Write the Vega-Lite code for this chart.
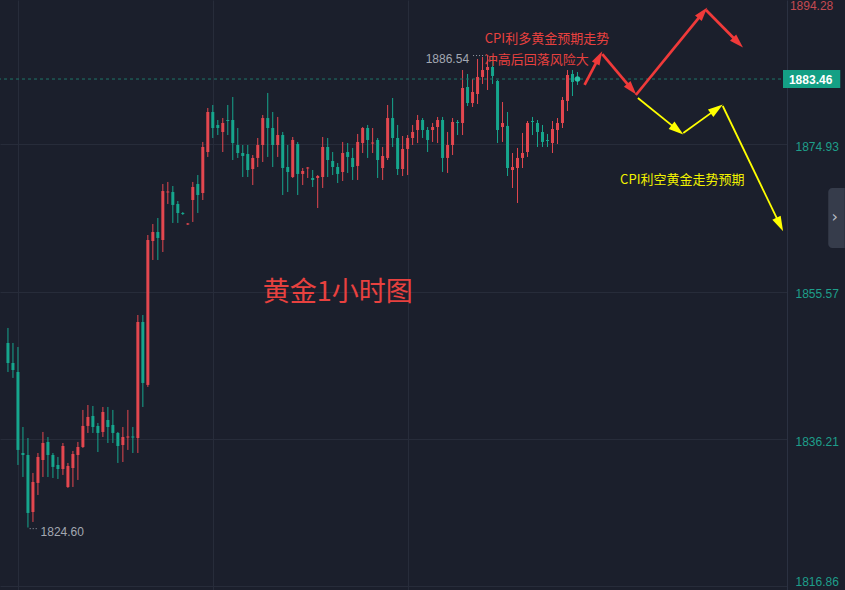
{
  "$schema": "https://vega.github.io/schema/vega-lite/v6.json",
  "width": 787,
  "height": 590,
  "autosize": {"type": "none"},
  "padding": {"left": 0, "top": 0, "right": 58, "bottom": 0},
  "background": "#1b1f2c",
  "view": {"stroke": null},
  "config": {"text": {"font": "Noto Sans CJK SC"}},
  "datasets": {
    "candles": [
      {"i":0,"o":1848.82,"h":1850.79,"l":1845.01,"c":1846.19},
      {"i":1,"o":1846.19,"h":1848.82,"l":1844.23,"c":1845.27},
      {"i":2,"o":1845.01,"h":1848.29,"l":1832.81,"c":1834.78},
      {"i":3,"o":1834.38,"h":1837.79,"l":1831.23,"c":1834.12},
      {"i":4,"o":1834.12,"h":1836.35,"l":1824.60,"c":1826.51},
      {"i":5,"o":1826.64,"h":1831.76,"l":1825.33,"c":1830.58},
      {"i":6,"o":1830.45,"h":1834.38,"l":1828.87,"c":1833.86},
      {"i":7,"o":1833.46,"h":1837.14,"l":1831.23,"c":1835.69},
      {"i":8,"o":1835.83,"h":1836.48,"l":1831.23,"c":1834.12},
      {"i":9,"o":1834.12,"h":1834.38,"l":1831.10,"c":1832.55},
      {"i":10,"o":1832.81,"h":1833.86,"l":1830.97,"c":1832.28},
      {"i":11,"o":1832.28,"h":1835.69,"l":1831.50,"c":1835.30},
      {"i":12,"o":1829.92,"h":1833.07,"l":1829.79,"c":1832.68},
      {"i":13,"o":1832.41,"h":1834.65,"l":1829.92,"c":1834.25},
      {"i":14,"o":1834.12,"h":1835.83,"l":1830.84,"c":1835.17},
      {"i":15,"o":1835.17,"h":1840.03,"l":1835.04,"c":1837.93},
      {"i":16,"o":1837.93,"h":1840.68,"l":1837.01,"c":1839.11},
      {"i":17,"o":1839.24,"h":1840.55,"l":1837.01,"c":1837.79},
      {"i":18,"o":1837.93,"h":1838.32,"l":1834.51,"c":1837.01},
      {"i":19,"o":1837.14,"h":1840.42,"l":1836.48,"c":1839.76},
      {"i":20,"o":1838.71,"h":1840.42,"l":1835.69,"c":1837.79},
      {"i":21,"o":1838.06,"h":1840.03,"l":1835.69,"c":1837.01},
      {"i":22,"o":1837.01,"h":1837.14,"l":1833.07,"c":1835.30},
      {"i":23,"o":1835.43,"h":1837.79,"l":1833.20,"c":1836.48},
      {"i":24,"o":1836.41,"h":1840.03,"l":1834.78,"c":1836.55},
      {"i":25,"o":1836.55,"h":1837.79,"l":1834.38,"c":1836.41},
      {"i":26,"o":1836.35,"h":1852.49,"l":1834.38,"c":1851.57},
      {"i":27,"o":1851.57,"h":1852.49,"l":1840.42,"c":1843.57},
      {"i":28,"o":1843.31,"h":1862.99,"l":1843.05,"c":1862.33},
      {"i":29,"o":1862.20,"h":1864.43,"l":1859.71,"c":1863.38},
      {"i":30,"o":1863.38,"h":1865.22,"l":1859.71,"c":1862.60},
      {"i":31,"o":1862.33,"h":1869.68,"l":1860.76,"c":1868.76},
      {"i":32,"o":1868.57,"h":1869.95,"l":1867.06,"c":1868.70},
      {"i":33,"o":1868.63,"h":1869.42,"l":1864.57,"c":1866.93},
      {"i":34,"o":1867.06,"h":1867.45,"l":1864.57,"c":1865.88},
      {"i":35,"o":1865.88,"h":1866.01,"l":1865.62,"c":1865.75},
      {"i":36,"o":1864.37,"h":1864.57,"l":1864.30,"c":1864.50},
      {"i":37,"o":1867.58,"h":1869.95,"l":1864.70,"c":1869.29},
      {"i":38,"o":1869.68,"h":1870.86,"l":1865.88,"c":1868.24},
      {"i":39,"o":1868.50,"h":1875.20,"l":1867.58,"c":1874.54},
      {"i":40,"o":1873.88,"h":1879.66,"l":1873.23,"c":1879.13},
      {"i":41,"o":1879.13,"h":1880.05,"l":1875.72,"c":1877.03},
      {"i":42,"o":1877.43,"h":1878.08,"l":1876.11,"c":1877.03},
      {"i":43,"o":1876.51,"h":1878.34,"l":1873.88,"c":1877.69},
      {"i":44,"o":1878.08,"h":1880.05,"l":1876.11,"c":1877.95},
      {"i":45,"o":1878.08,"h":1881.10,"l":1872.83,"c":1875.06},
      {"i":46,"o":1874.80,"h":1877.03,"l":1873.10,"c":1873.75},
      {"i":47,"o":1873.75,"h":1874.80,"l":1870.60,"c":1873.36},
      {"i":48,"o":1873.62,"h":1874.80,"l":1870.60,"c":1871.52},
      {"i":49,"o":1871.65,"h":1873.49,"l":1869.55,"c":1873.10},
      {"i":50,"o":1873.10,"h":1875.72,"l":1871.91,"c":1874.80},
      {"i":51,"o":1874.80,"h":1878.74,"l":1872.57,"c":1878.34},
      {"i":52,"o":1878.34,"h":1881.63,"l":1873.23,"c":1877.03},
      {"i":53,"o":1877.03,"h":1879.13,"l":1871.91,"c":1874.80},
      {"i":54,"o":1874.80,"h":1878.48,"l":1873.23,"c":1876.11},
      {"i":55,"o":1876.11,"h":1876.51,"l":1868.24,"c":1871.78},
      {"i":56,"o":1871.91,"h":1874.80,"l":1868.63,"c":1871.26},
      {"i":57,"o":1870.60,"h":1875.85,"l":1870.47,"c":1875.46},
      {"i":58,"o":1874.93,"h":1875.20,"l":1868.24,"c":1871.00},
      {"i":59,"o":1871.00,"h":1871.78,"l":1869.55,"c":1871.39},
      {"i":60,"o":1871.72,"h":1871.91,"l":1870.47,"c":1871.85},
      {"i":61,"o":1870.47,"h":1871.52,"l":1869.29,"c":1870.21},
      {"i":62,"o":1870.47,"h":1870.86,"l":1866.53,"c":1870.73},
      {"i":63,"o":1870.60,"h":1875.85,"l":1869.16,"c":1874.54},
      {"i":64,"o":1874.54,"h":1875.72,"l":1870.60,"c":1872.83},
      {"i":65,"o":1872.70,"h":1873.88,"l":1870.86,"c":1871.91},
      {"i":66,"o":1871.91,"h":1872.44,"l":1869.81,"c":1871.00},
      {"i":67,"o":1871.26,"h":1875.20,"l":1870.08,"c":1873.75},
      {"i":68,"o":1873.88,"h":1875.06,"l":1871.13,"c":1873.23},
      {"i":69,"o":1873.10,"h":1874.41,"l":1870.21,"c":1871.91},
      {"i":70,"o":1872.05,"h":1876.25,"l":1870.21,"c":1875.20},
      {"i":71,"o":1875.06,"h":1877.16,"l":1873.75,"c":1877.03},
      {"i":72,"o":1877.03,"h":1877.43,"l":1873.10,"c":1875.46},
      {"i":73,"o":1874.99,"h":1877.03,"l":1873.75,"c":1875.13},
      {"i":74,"o":1875.46,"h":1875.72,"l":1870.47,"c":1872.83},
      {"i":75,"o":1871.78,"h":1874.54,"l":1870.21,"c":1873.36},
      {"i":76,"o":1873.10,"h":1880.05,"l":1872.83,"c":1878.34},
      {"i":77,"o":1878.34,"h":1880.97,"l":1874.54,"c":1875.72},
      {"i":78,"o":1875.72,"h":1877.43,"l":1870.86,"c":1871.65},
      {"i":79,"o":1871.65,"h":1875.98,"l":1870.73,"c":1874.28},
      {"i":80,"o":1874.28,"h":1876.11,"l":1870.86,"c":1875.72},
      {"i":81,"o":1875.72,"h":1877.43,"l":1874.80,"c":1876.51},
      {"i":82,"o":1876.77,"h":1878.74,"l":1875.06,"c":1878.08},
      {"i":83,"o":1878.08,"h":1878.34,"l":1875.72,"c":1876.77},
      {"i":84,"o":1876.77,"h":1877.16,"l":1873.88,"c":1875.46},
      {"i":85,"o":1876.77,"h":1877.69,"l":1875.20,"c":1877.16},
      {"i":86,"o":1877.16,"h":1878.48,"l":1875.06,"c":1878.08},
      {"i":87,"o":1878.08,"h":1878.48,"l":1871.26,"c":1873.10},
      {"i":88,"o":1873.10,"h":1876.51,"l":1871.13,"c":1874.80},
      {"i":89,"o":1874.80,"h":1878.34,"l":1873.49,"c":1877.82},
      {"i":90,"o":1877.82,"h":1878.08,"l":1876.11,"c":1877.69},
      {"i":91,"o":1877.69,"h":1884.64,"l":1876.11,"c":1882.28},
      {"i":92,"o":1882.41,"h":1884.12,"l":1879.92,"c":1880.31},
      {"i":93,"o":1880.31,"h":1883.46,"l":1879.79,"c":1881.76},
      {"i":94,"o":1881.49,"h":1886.09,"l":1880.18,"c":1883.73},
      {"i":95,"o":1883.73,"h":1886.35,"l":1882.81,"c":1884.64},
      {"i":96,"o":1884.64,"h":1886.54,"l":1882.02,"c":1885.04},
      {"i":97,"o":1885.04,"h":1886.48,"l":1882.81,"c":1883.86},
      {"i":98,"o":1883.20,"h":1883.33,"l":1875.06,"c":1876.77},
      {"i":99,"o":1877.16,"h":1880.44,"l":1875.20,"c":1877.69},
      {"i":100,"o":1877.30,"h":1879.13,"l":1870.73,"c":1871.78},
      {"i":101,"o":1871.52,"h":1873.75,"l":1869.16,"c":1871.91},
      {"i":102,"o":1871.78,"h":1874.41,"l":1867.19,"c":1873.10},
      {"i":103,"o":1873.10,"h":1876.38,"l":1871.78,"c":1873.75},
      {"i":104,"o":1873.88,"h":1877.95,"l":1873.23,"c":1877.69},
      {"i":105,"o":1877.95,"h":1878.48,"l":1876.11,"c":1877.82},
      {"i":106,"o":1877.69,"h":1878.08,"l":1874.54,"c":1876.51},
      {"i":107,"o":1876.51,"h":1877.43,"l":1874.54,"c":1875.20},
      {"i":108,"o":1875.46,"h":1876.25,"l":1874.54,"c":1875.33},
      {"i":109,"o":1875.06,"h":1877.95,"l":1873.75,"c":1876.90},
      {"i":110,"o":1876.77,"h":1878.34,"l":1874.93,"c":1877.69},
      {"i":111,"o":1877.69,"h":1881.10,"l":1877.03,"c":1880.71},
      {"i":112,"o":1880.58,"h":1884.64,"l":1879.26,"c":1883.99},
      {"i":113,"o":1884.12,"h":1884.64,"l":1881.23,"c":1883.07},
      {"i":114,"o":1883.66,"h":1884.38,"l":1882.68,"c":1883.46}
    ],
    "redArrows": [
      {"x":115.42,"y":1882.68,"x2":118.3,"y2":1886.30,"a":28},
      {"x":118.97,"y":1886.74,"x2":124.86,"y2":1882.12,"a":139.8},
      {"x":125.69,"y":1881.36,"x2":139.09,"y2":1892.14,"a":39.5},
      {"x":139.72,"y":1892.52,"x2":146.14,"y2":1888.25,"a":135}
    ],
    "yellowArrows": [
      {"x":126.09,"y":1880.97,"x2":134.01,"y2":1876.78,"a":128.5},
      {"x":135.18,"y":1876.38,"x2":141.88,"y2":1879.54,"a":54.6},
      {"x":143.08,"y":1879.92,"x2":154.5,"y2":1864.37,"a":153.8}
    ]
  },
  "layer": [
    {
      "data": {"name": "candles"},
      "mark": {"type": "rule", "strokeWidth": 1},
      "encoding": {
        "x": {"field": "i", "type": "quantitative",
          "scale": {"domain": [-0.593, 154.94], "zero": false, "nice": false},
          "axis": {"values": [2, 41, 80], "grid": true, "gridColor": "#272c3a", "labels": false, "ticks": false, "domain": false, "title": null}},
        "y": {"field": "l", "type": "quantitative",
          "scale": {"domain": [1816.4, 1893.83], "zero": false, "nice": false},
          "axis": {"orient": "right", "values": [1874.93, 1855.57, 1836.21, 1816.86], "format": ".2f", "title": null,
            "ticks": false, "domain": true, "domainColor": "#2b3141", "grid": true, "gridColor": "#272c3a",
            "labelColor": "#1e9e8a", "labelFont": "Liberation Sans", "labelFontSize": 12, "labelPadding": 8,
            "labelAlign": "left", "labelFlush": 4, "labelOffset": 2}},
        "y2": {"field": "h"},
        "color": {"condition": {"test": "datum.c >= datum.o", "value": "#e3474f"}, "value": "#16a68d"}
      }
    },
    {
      "data": {"values": [{"p": 1883.46}]},
      "mark": {"type": "rule", "color": "#1d7568", "strokeDash": [3, 3], "strokeWidth": 1},
      "encoding": {
        "y": {"field": "p", "type": "quantitative", "scale": {"domain": [1816.4, 1893.83], "zero": false, "nice": false}}
      }
    },
    {
      "data": {"name": "candles"},
      "mark": {"type": "bar", "size": 3},
      "encoding": {
        "x": {"field": "i", "type": "quantitative", "scale": {"domain": [-0.593, 154.94], "zero": false, "nice": false}},
        "y": {"field": "o", "type": "quantitative", "scale": {"domain": [1816.4, 1893.83], "zero": false, "nice": false}},
        "y2": {"field": "c"},
        "color": {"condition": {"test": "datum.c >= datum.o", "value": "#e3474f"}, "value": "#16a68d"}
      }
    },
    {
      "data": {"values": [{"x": 114, "y": 1883.46}]},
      "mark": {"type": "point", "filled": true, "size": 30, "color": "#2bc4a8", "opacity": 1},
      "encoding": {
        "x": {"field": "x", "type": "quantitative", "scale": {"domain": [-0.593, 154.94], "zero": false, "nice": false}},
        "y": {"field": "y", "type": "quantitative", "scale": {"domain": [1816.4, 1893.83], "zero": false, "nice": false}}
      }
    },
    {
      "data": {"values": [{"x": 4.35, "x2": 5.93, "y": 1824.45}, {"x": 93.1, "x2": 95.6, "y": 1886.54}]},
      "mark": {"type": "rule", "color": "#9aa0aa", "strokeDash": [1, 2], "strokeWidth": 1},
      "encoding": {
        "x": {"field": "x", "type": "quantitative", "scale": {"domain": [-0.593, 154.94], "zero": false, "nice": false}},
        "x2": {"field": "x2"},
        "y": {"field": "y", "type": "quantitative", "scale": {"domain": [1816.4, 1893.83], "zero": false, "nice": false}}
      }
    },
    {
      "data": {"values": [{"x": 6.52, "y": 1824.60, "t": "1824.60"}]},
      "mark": {"type": "text", "font": "Liberation Sans", "fontSize": 12, "color": "#a3a8b2", "align": "left", "baseline": "middle", "dy": 4.5},
      "encoding": {
        "x": {"field": "x", "type": "quantitative", "scale": {"domain": [-0.593, 154.94], "zero": false, "nice": false}},
        "y": {"field": "y", "type": "quantitative", "scale": {"domain": [1816.4, 1893.83], "zero": false, "nice": false}},
        "text": {"field": "t"}
      }
    },
    {
      "data": {"values": [{"x": 92.3, "y": 1886.54, "t": "1886.54"}]},
      "mark": {"type": "text", "font": "Liberation Sans", "fontSize": 12, "color": "#a3a8b2", "align": "right", "baseline": "middle", "dy": 3.5},
      "encoding": {
        "x": {"field": "x", "type": "quantitative", "scale": {"domain": [-0.593, 154.94], "zero": false, "nice": false}},
        "y": {"field": "y", "type": "quantitative", "scale": {"domain": [1816.4, 1893.83], "zero": false, "nice": false}},
        "text": {"field": "t"}
      }
    },
    {
      "data": {"values": [{"x": 95.45, "y": 1888.71, "t": "CPI利多黄金预期走势"}, {"x": 95.45, "y": 1885.96, "t": "冲高后回落风险大"}]},
      "mark": {"type": "text", "fontSize": 13, "color": "#e8413f", "align": "left", "baseline": "middle"},
      "encoding": {
        "x": {"field": "x", "type": "quantitative", "scale": {"domain": [-0.593, 154.94], "zero": false, "nice": false}},
        "y": {"field": "y", "type": "quantitative", "scale": {"domain": [1816.4, 1893.83], "zero": false, "nice": false}},
        "text": {"field": "t"}
      }
    },
    {
      "data": {"values": [{"x": 66.0, "y": 1855.38, "t": "黄金1小时图"}]},
      "mark": {"type": "text", "fontSize": 27, "color": "#e8413f", "align": "center", "baseline": "middle"},
      "encoding": {
        "x": {"field": "x", "type": "quantitative", "scale": {"domain": [-0.593, 154.94], "zero": false, "nice": false}},
        "y": {"field": "y", "type": "quantitative", "scale": {"domain": [1816.4, 1893.83], "zero": false, "nice": false}},
        "text": {"field": "t"}
      }
    },
    {
      "data": {"values": [{"x": 134.98, "y": 1870.21, "t": "CPI利空黄金走势预期"}]},
      "mark": {"type": "text", "fontSize": 13, "color": "#f2f200", "align": "center", "baseline": "middle"},
      "encoding": {
        "x": {"field": "x", "type": "quantitative", "scale": {"domain": [-0.593, 154.94], "zero": false, "nice": false}},
        "y": {"field": "y", "type": "quantitative", "scale": {"domain": [1816.4, 1893.83], "zero": false, "nice": false}},
        "text": {"field": "t"}
      }
    },
    {
      "data": {"name": "redArrows"},
      "mark": {"type": "rule", "color": "#f03a3a", "strokeWidth": 2.7},
      "encoding": {
        "x": {"field": "x", "type": "quantitative", "scale": {"domain": [-0.593, 154.94], "zero": false, "nice": false}},
        "y": {"field": "y", "type": "quantitative", "scale": {"domain": [1816.4, 1893.83], "zero": false, "nice": false}},
        "x2": {"field": "x2"},
        "y2": {"field": "y2"}
      }
    },
    {
      "data": {"name": "redArrows"},
      "mark": {"type": "point", "shape": "M0,-1L0.62,1L-0.62,1Z", "filled": true, "size": 196, "color": "#f03a3a", "opacity": 1},
      "encoding": {
        "x": {"field": "x2", "type": "quantitative", "scale": {"domain": [-0.593, 154.94], "zero": false, "nice": false}},
        "y": {"field": "y2", "type": "quantitative", "scale": {"domain": [1816.4, 1893.83], "zero": false, "nice": false}},
        "angle": {"field": "a", "type": "quantitative", "scale": null}
      }
    },
    {
      "data": {"name": "yellowArrows"},
      "mark": {"type": "rule", "color": "#ffff00", "strokeWidth": 1.8},
      "encoding": {
        "x": {"field": "x", "type": "quantitative", "scale": {"domain": [-0.593, 154.94], "zero": false, "nice": false}},
        "y": {"field": "y", "type": "quantitative", "scale": {"domain": [1816.4, 1893.83], "zero": false, "nice": false}},
        "x2": {"field": "x2"},
        "y2": {"field": "y2"}
      }
    },
    {
      "data": {"name": "yellowArrows"},
      "mark": {"type": "point", "shape": "M0,-1L0.62,1L-0.62,1Z", "filled": true, "size": 225, "color": "#ffff00", "opacity": 1},
      "encoding": {
        "x": {"field": "x2", "type": "quantitative", "scale": {"domain": [-0.593, 154.94], "zero": false, "nice": false}},
        "y": {"field": "y2", "type": "quantitative", "scale": {"domain": [1816.4, 1893.83], "zero": false, "nice": false}},
        "angle": {"field": "a", "type": "quantitative", "scale": null}
      }
    },
    {
      "data": {"values": [{"x": 155.14, "x2": 166.6, "y": 1884.64, "y2": 1882.28}]},
      "mark": {"type": "rect", "color": "#14a085"},
      "encoding": {
        "x": {"field": "x", "type": "quantitative", "scale": {"domain": [-0.593, 154.94], "zero": false, "nice": false}},
        "x2": {"field": "x2"},
        "y": {"field": "y", "type": "quantitative", "scale": {"domain": [1816.4, 1893.83], "zero": false, "nice": false}},
        "y2": {"field": "y2"}
      }
    },
    {
      "data": {"values": [{"x": 160.67, "y": 1883.46, "t": "1883.46"}]},
      "mark": {"type": "text", "font": "Liberation Sans", "fontSize": 12, "fontWeight": "bold", "color": "#ffffff", "align": "center", "baseline": "middle", "dy": 1},
      "encoding": {
        "x": {"field": "x", "type": "quantitative", "scale": {"domain": [-0.593, 154.94], "zero": false, "nice": false}},
        "y": {"field": "y", "type": "quantitative", "scale": {"domain": [1816.4, 1893.83], "zero": false, "nice": false}},
        "text": {"field": "t"}
      }
    },
    {
      "data": {"values": [{"x": 156.52, "y": 1894.28, "t": "1894.28"}]},
      "mark": {"type": "text", "font": "Liberation Sans", "fontSize": 12, "color": "#c44a52", "align": "left", "baseline": "middle", "dy": 9},
      "encoding": {
        "x": {"field": "x", "type": "quantitative", "scale": {"domain": [-0.593, 154.94], "zero": false, "nice": false}},
        "y": {"field": "y", "type": "quantitative", "scale": {"domain": [1816.4, 1893.83], "zero": false, "nice": false}},
        "text": {"field": "t"}
      }
    },
    {
      "data": {"values": [{"x": 164.2, "x2": 167.5, "y": 1869.16, "y2": 1861.28}]},
      "mark": {"type": "rect", "color": "#363c4b", "cornerRadiusTopLeft": 4, "cornerRadiusBottomLeft": 4},
      "encoding": {
        "x": {"field": "x", "type": "quantitative", "scale": {"domain": [-0.593, 154.94], "zero": false, "nice": false}},
        "x2": {"field": "x2"},
        "y": {"field": "y", "type": "quantitative", "scale": {"domain": [1816.4, 1893.83], "zero": false, "nice": false}},
        "y2": {"field": "y2"}
      }
    },
    {
      "data": {"values": [{"x": 165.5, "y": 1865.22, "t": "›"}]},
      "mark": {"type": "text", "font": "DejaVu Sans", "fontSize": 16, "color": "#b8bcc6", "align": "center", "baseline": "middle", "dy": -1},
      "encoding": {
        "x": {"field": "x", "type": "quantitative", "scale": {"domain": [-0.593, 154.94], "zero": false, "nice": false}},
        "y": {"field": "y", "type": "quantitative", "scale": {"domain": [1816.4, 1893.83], "zero": false, "nice": false}},
        "text": {"field": "t"}
      }
    }
  ]
}
